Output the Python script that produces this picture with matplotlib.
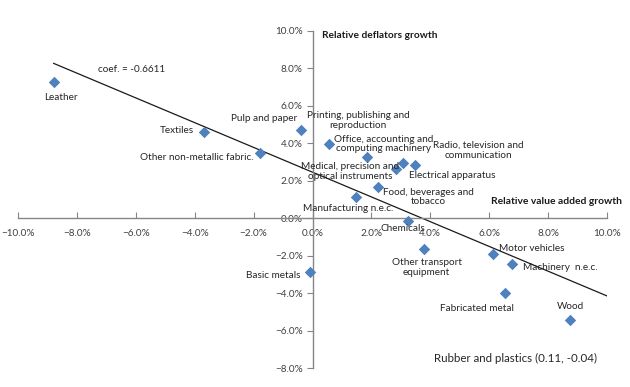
import matplotlib
matplotlib.use("Agg")
import matplotlib.pyplot as plt
from matplotlib.ticker import PercentFormatter, FixedLocator
import numpy as np

plt.rcParams['font.family'] = ['Lato', 'DejaVu Sans']

# ---- data ----
sectors = ["Leather", "Textiles", "Other non-metallic fabric.", "Pulp and paper",
           "Printing, publishing and\nreproduction",
           "Office, accounting and\ncomputing machinery",
           "Medical, precision and\noptical instruments",
           "Electrical apparatus", "Radio, television and\ncommunication",
           "Food, beverages and\ntobacco", "Manufacturing n.e.c.", "Chemicals",
           "Other transport\nequipment", "Motor vehicles", "Machinery  n.e.c.",
           "Fabricated metal", "Wood", "Basic metals", "Rubber and plastics"]
value_added_growth = [-0.0879, -0.0370, -0.0179, -0.0040, 0.0057, 0.0186, 0.0284,
                      0.0307, 0.0347, 0.0224, 0.0149, 0.0325, 0.0377, 0.0612,
                      0.0679, 0.0652, 0.0876, -0.0009, 0.11]
deflators_growth = [0.0726, 0.0459, 0.0351, 0.0470, 0.0399, 0.0327, 0.0262,
                    0.0296, 0.0283, 0.0167, 0.0114, -0.0014, -0.0162, -0.0191,
                    -0.0246, -0.0397, -0.0545, -0.0288, -0.04]
trend_slope = -0.6611
trend_intercept = 0.0246
x_ticks = [-0.10, -0.08, -0.06, -0.04, -0.02, 0.0, 0.02, 0.04, 0.06, 0.08, 0.10]
y_ticks = [-0.08, -0.06, -0.04, -0.02, 0.0, 0.02, 0.04, 0.06, 0.08, 0.10]

# label offsets in pixels (dx, dy) relative to each point
label_offsets = [(7, -15), (-27, 2), (-63, -5), (-37, 12), (29, 23), (16, 13),
                 (-46, -2), (49, -13), (64, 15), (50, -10), (-8, -12), (-5, -8),
                 (3, -19), (39, 5), (48, -3), (-28, -16), (0, 14), (-37, -3), None]

fig = plt.figure(figsize=(6.30, 3.87), dpi=100)
ax = fig.add_axes([18 / 630, 1 - 368 / 387, (607 - 18) / 630, (368 - 31) / 387])

axis_col = "#868686"
tick_col = "#404040"

ax.scatter(value_added_growth, deflators_growth, marker='D', s=34,
           color='#4F81BD', zorder=3, clip_on=True, linewidths=0)

xs = np.array([min(value_added_growth), max(value_added_growth)])
ax.plot(xs, trend_intercept + trend_slope * xs, color='#1a1a1a', lw=0.9, zorder=2)

ax.set_xlim(-0.10, 0.10)
ax.set_ylim(-0.08, 0.10)

for s in ['top', 'right']:
    ax.spines[s].set_visible(False)
ax.spines['left'].set_position(('data', 0))
ax.spines['bottom'].set_position(('data', 0))
ax.spines['left'].set_color(axis_col)
ax.spines['bottom'].set_color(axis_col)
ax.spines['left'].set_linewidth(1.0)
ax.spines['bottom'].set_linewidth(1.0)

ax.xaxis.set_major_locator(FixedLocator(x_ticks))
ax.yaxis.set_major_locator(FixedLocator(y_ticks))
ax.xaxis.set_major_formatter(PercentFormatter(1.0, decimals=1))
ax.yaxis.set_major_formatter(PercentFormatter(1.0, decimals=1))
ax.tick_params(axis='x', direction='in', length=4, color=axis_col,
               labelsize=7.2, labelcolor=tick_col, pad=8)
ax.tick_params(axis='y', direction='out', length=4, color=axis_col,
               labelsize=7.2, labelcolor=tick_col, pad=3)

ax.patch.set_alpha(0)

for name, x, y, off in zip(sectors, value_added_growth, deflators_growth, label_offsets):
    if off is None:
        continue
    ax.annotate(name, (x, y), xytext=off, textcoords='offset pixels',
                ha='center', va='center', fontsize=7.2, color='#262626',
                linespacing=1.1)

fig.text(322 / 630, 1 - 35 / 387, "Relative deflators growth", fontsize=7.3,
         fontweight='bold', ha='left', va='center', color='#1a1a1a')
fig.text(622 / 630, 1 - 201 / 387, "Relative value added growth", fontsize=7.4,
         fontweight='bold', ha='right', va='center', color='#1a1a1a')
fig.text(132 / 630, 1 - 70 / 387, "coef. = -0.6611", fontsize=7.2,
         ha='center', va='center', color='#262626')
fig.text(597 / 630, 1 - 358 / 387, "Rubber and plastics (0.11, -0.04)", fontsize=8.3,
         ha='right', va='center', color='#262626')

fig.savefig("out.png", dpi=100)
